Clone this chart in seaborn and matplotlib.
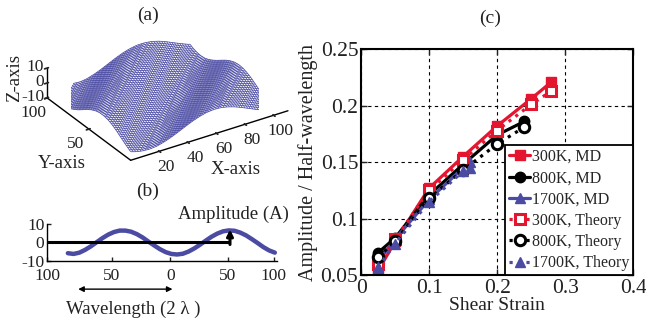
import numpy as np
import pandas as pd
import matplotlib
matplotlib.use("Agg")
import matplotlib.pyplot as plt
import seaborn as sns
from mpl_toolkits.mplot3d import proj3d

# ---------------- data ----------------
strain_300 = [0.025, 0.05, 0.10, 0.15, 0.20, 0.25, 0.28]
md_300 = [0.054, 0.080, 0.127, 0.155, 0.182, 0.206, 0.221]
th_300 = [0.060, 0.082, 0.125, 0.152, 0.178, 0.201, 0.213]
strain_800 = [0.025, 0.05, 0.10, 0.15, 0.20, 0.24]
md_800 = [0.070, 0.083, 0.121, 0.148, 0.174, 0.186]
th_800 = [0.066, 0.080, 0.118, 0.143, 0.166, 0.181]
strain_1700 = [0.025, 0.05, 0.10, 0.15, 0.16]
md_1700 = [0.062, 0.082, 0.117, 0.145, 0.150]
th_1700 = [0.057, 0.078, 0.115, 0.142, 0.145]
series_labels = ["300K, MD", "800K, MD", "1700K, MD",
                 "300K, Theory", "800K, Theory", "1700K, Theory"]
x_ticks_c = [0, 0.1, 0.2, 0.3, 0.4]
y_ticks_c = [0.05, 0.1, 0.15, 0.2, 0.25]

# panel (b): wave profile read along the section
wave_x = [-82, -77, -72, -67, -62, -57, -52, -47, -42, -37, -32, -27, -22, -17,
          -12, -7, -2, 3, 8, 13, 18, 23, 28, 33, 38, 43, 48, 53, 58, 63, 68,
          73, 78, 83, 88, 93, 98]
wave_z = [-5.8, -6.2, -5.5, -4.0, -2.1, 0.1, 2.3, 4.2, 5.6, 6.4, 6.4, 5.8, 4.5,
          2.7, 0.5, -1.6, -3.6, -5.2, -6.2, -6.5, -6.1, -4.9, -3.2, -1.2, 1.0,
          3.1, 4.8, 6.0, 6.5, 6.3, 5.3, 3.8, 1.8, -0.3, -2.5, -4.3, -5.5]
b_tick_pos = [-100, -44, 7, 57, 97]
b_xticklabels = ["100", "50", "0", "50", "100"]
b_yticks = [-10, 0, 10]
amp_x = 59
amp_z = 6.5
wl_start, wl_end = -73, 9

# panel (a) axis ticks
a_xticks = [20, 40, 60, 80, 100]
a_yticks = [50, 100]
a_zticks = [-10, 0, 10]

# ---------------- style ----------------
sns.set_theme(style="ticks")
plt.rcParams["font.family"] = ["Liberation Serif", "DejaVu Serif"]
plt.rcParams["axes.unicode_minus"] = False

RED = "#e3152f"
BLUE = "#4b4ba3"
BLACK = "#000000"
TXT = "#222222"

fig = plt.figure(figsize=(6.46, 3.25), dpi=100)

# ---------------- panel (c) ----------------
axc = fig.add_axes([0.559, 0.153, 0.421, 0.696])
specs = [
    (strain_300, md_300, RED, "s", "-", RED),
    (strain_800, md_800, BLACK, "o", "-", BLACK),
    (strain_1700, md_1700, BLUE, "^", "-", BLUE),
    (strain_300, th_300, RED, "s", ":", "white"),
    (strain_800, th_800, BLACK, "o", ":", "white"),
    (strain_1700, th_1700, BLUE, "^", ":", BLUE),
]
for (xs, ys, col, mk, ls, mfc), lab in zip(specs, series_labels):
    sns.lineplot(x=xs, y=ys, ax=axc, color=col, marker=mk, linestyle=ls,
                 linewidth=2.3, markersize=7.5, markerfacecolor=mfc,
                 markeredgecolor=col,
                 markeredgewidth=2.2 if mfc == "white" else 1.0,
                 label=lab, sort=False, estimator=None)
axc.set_xlim(0, 0.4)
axc.set_ylim(0.05, 0.25)
axc.set_xticks(x_ticks_c)
axc.set_xticklabels(["0", "0.1", "0.2", "0.3", "0.4"], fontsize=15.5)
axc.set_yticks(y_ticks_c)
axc.set_yticklabels(["0.05", "0.1", "0.15", "0.2", "0.25"], fontsize=15.5)
axc.grid(True, color="black", linestyle=(0, (3, 3)), linewidth=0.8)
axc.set_axisbelow(True)
for s in axc.spines.values():
    s.set_visible(True)
    s.set_color("black")
    s.set_linewidth(1.5)
axc.tick_params(direction="in", length=4, width=1, pad=2,
                colors=TXT, top=True, right=True)
axc.tick_params(axis="x", pad=3)
axc.set_xlabel("Shear Strain", fontsize=14, color=TXT, labelpad=-1)
axc.set_ylabel("Amplitude / Half-wavelength", fontsize=14.5, color=TXT,
               labelpad=2)
leg = axc.legend(loc="lower right", borderaxespad=0, fancybox=False,
                 edgecolor="black", framealpha=1, fontsize=11.5,
                 handlelength=1.3, handletextpad=0.1, labelspacing=0.33,
                 borderpad=0.25)
leg.get_frame().set_linewidth(1.3)
fig.text(0.758, 0.945, "(c)", fontsize=14, ha="center", va="center", color=TXT)

# ---------------- panel (b) ----------------
axb = fig.add_axes([0.073, 0.197, 0.356, 0.114])
sns.lineplot(x=wave_x, y=wave_z, ax=axb, color=BLUE, linewidth=3.2,
             sort=False, estimator=None)
axb.plot([b_tick_pos[0], amp_x], [0, 0], color="black", linewidth=2.2,
         solid_capstyle="butt")
axb.annotate("", xy=(amp_x, amp_z + 0.5), xytext=(amp_x, -1.1),
             arrowprops=dict(arrowstyle="-|>", color="black", lw=2.2,
                             mutation_scale=9, shrinkA=0, shrinkB=0))
axb.set_xlim(-100, 100)
axb.set_ylim(-10, 10)
axb.set_xticks(b_tick_pos)
axb.set_xticklabels(b_xticklabels)
axb.set_yticks(b_yticks)
axb.spines["top"].set_visible(False)
axb.spines["right"].set_visible(False)
for s in ("left", "bottom"):
    axb.spines[s].set_color("black")
    axb.spines[s].set_linewidth(1.0)
axb.tick_params(axis="both", direction="in", length=3, width=1, labelsize=12.5,
                colors=TXT)
axb.tick_params(axis="x", pad=5)
axb.tick_params(axis="y", pad=2)
axb.text(amp_x + 3, 10.3, "Amplitude (A)", fontsize=13.5, ha="center",
         va="bottom", color=TXT)
axb.annotate("", xy=(wl_start, -0.76), xytext=(wl_end, -0.76),
             xycoords=axb.get_xaxis_transform(),
             textcoords=axb.get_xaxis_transform(),
             arrowprops=dict(arrowstyle="<|-|>", color="black", lw=1.0,
                             mutation_scale=8, shrinkA=0, shrinkB=0),
             annotation_clip=False)
fig.text(0.206, 0.047, "Wavelength (2 λ )", fontsize=13.5,
         ha="center", va="center", color=TXT)
fig.text(0.229, 0.41, "(b)", fontsize=14, ha="center", va="center", color=TXT)

# ---------------- panel (a) ----------------
ax3 = fig.add_axes([0.0054, 0.427, 0.50, 0.58], projection="3d")
ax3.set_proj_type("ortho")
gx = np.linspace(0, 100, 56)
gy = np.linspace(0, 100, 56)
GX, GY = np.meshgrid(gx, gy)
S = GX - GY
GZ = np.interp(S, wave_x, wave_z)
GZ = np.where(S < wave_x[0], np.nan, GZ)
ax3.plot_wireframe(GX, GY, GZ, rstride=1, cstride=1, color=BLUE, linewidth=0.55)
ax3.view_init(elev=29, azim=-123)
ax3.set_xlim(0, 110)
ax3.set_ylim(0, 100)
ax3.set_zlim(-10, 10)
ax3.set_box_aspect((1.1, 0.9, 0.2), zoom=1.26)
ax3.set_xticks(a_xticks)
ax3.set_yticks(a_yticks)
ax3.set_zticks(a_zticks)
ax3.set_zticklabels([""] * len(a_zticks))
ax3.grid(False)
for axis in (ax3.xaxis, ax3.yaxis, ax3.zaxis):
    axis.set_pane_color((1, 1, 1, 0))
    axis.pane.set_edgecolor("none")
    axis.line.set_color("black")
    axis.line.set_linewidth(1.0)
ax3.tick_params(labelsize=12.5, pad=-2, colors=TXT)
ax3.set_xlabel("")
ax3.set_ylabel("")
ax3.set_zlabel("")
fig.text(0.365, 0.477, "X-axis", fontsize=13.5, ha="center", va="center", color=TXT)
fig.text(0.096, 0.498, "Y-axis", fontsize=13.5, ha="center", va="center", color=TXT)
fig.text(0.022, 0.76, "Z-axis", fontsize=13.5, ha="center", va="center",
         rotation=90, color=TXT)
fig.text(0.229, 0.954, "(a)", fontsize=14, ha="center", va="center", color=TXT)

# z tick labels placed beside the projected z axis
fig.canvas.draw()
M = ax3.get_proj()
W, H = fig.bbox.width, fig.bbox.height
for zt in a_zticks:
    px, py, _ = proj3d.proj_transform(0, 100, zt, M)
    dx, dy = ax3.transData.transform((px, py))
    fig.text((dx - 3) / W, (dy + 1) / H, str(zt), fontsize=12.5, ha="right",
             va="center", color=TXT)

fig.savefig("out.png", dpi=100)
